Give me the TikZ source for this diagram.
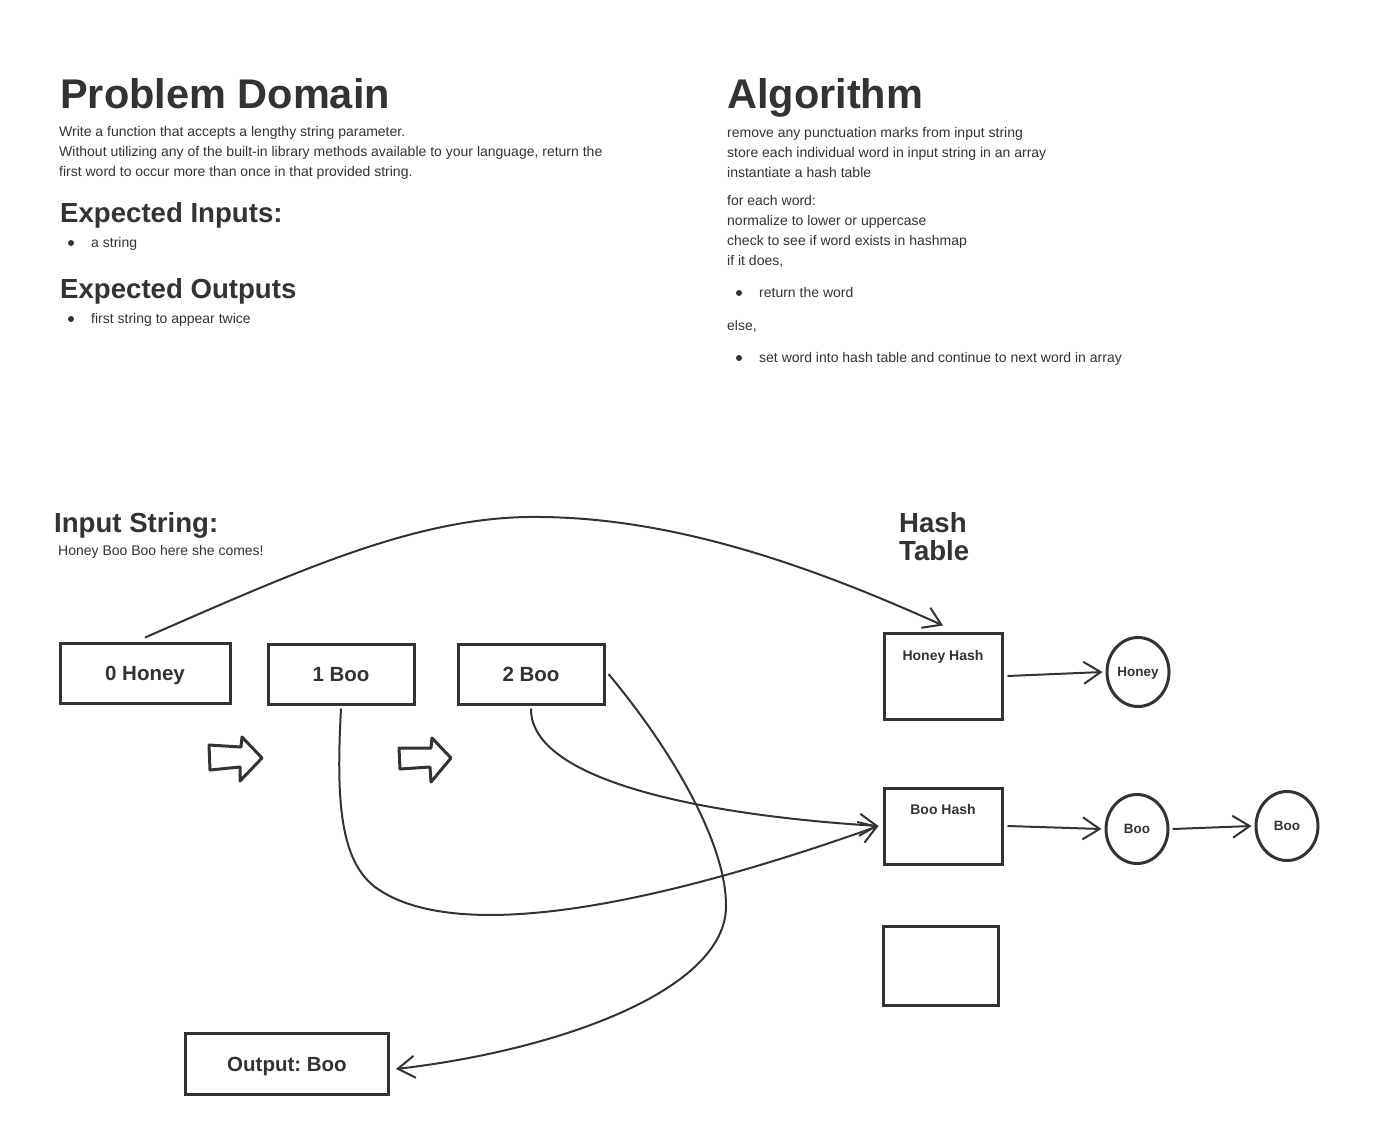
\documentclass[tikz,border=0pt]{standalone}
\usepackage{fontspec}
\setmainfont{Liberation Sans}
\usetikzlibrary{arrows.meta,shapes.geometric}
\definecolor{ink}{HTML}{333333}
\frenchspacing
\begin{document}
\begin{tikzpicture}[x=1pt,y=-1pt,
  txt/.style={anchor=base west, inner sep=0pt, text=ink, font=\fontsize{14}{16}\selectfont},
  h1/.style={txt, font=\fontsize{41.5}{48}\selectfont\bfseries},
  h2/.style={txt, font=\fontsize{27.6}{30}\selectfont\bfseries},
  bul/.style={circle, fill=ink, inner sep=0pt, minimum size=6pt},
  wbox/.style={draw=ink, line width=3pt, rectangle, inner sep=0pt, text=ink,
    font=\fontsize{20.5}{24}\selectfont\bfseries, text depth=0pt},
  hbox/.style={draw=ink, line width=3pt, rectangle, inner sep=0pt},
  lab/.style={inner sep=0pt, text=ink, font=\fontsize{14}{16}\selectfont\bfseries, text depth=0pt},
  circ/.style={draw=ink, line width=3pt, ellipse, inner sep=0pt, minimum width=62pt,
    minimum height=69pt, text=ink, font=\fontsize{13.5}{16}\selectfont\bfseries, text depth=0pt},
  conn/.style={draw=ink, line width=2pt, -{Straight Barb[length=17pt,width=22pt]}},
  blk/.style={draw=ink, line width=3pt, line join=round}
]
\useasboundingbox[fill=white] (0,0) rectangle (1379,1148);

% ---------- Problem Domain ----------
\node[h1] (pd) at (60,108) {Problem Domain};
\node[txt] (pd1) at (59,136) {Write a function that accepts a lengthy string parameter.};
\node[txt] (pd2) at (59,156) {Without utilizing any of the built-in library methods available to your language, return the};
\node[txt] (pd3) at (59,176) {first word to occur more than once in that provided string.};
\node[h2] (ei) at (60,222) {Expected Inputs:};
\node[bul] (eib) at (71,243) {};
\node[txt] (ei1) at (91,247) {a string};
\node[h2] (eo) at (60,298) {Expected Outputs};
\node[bul] (eob) at (71,319) {};
\node[txt] (eo1) at (91,323) {first string to appear twice};

% ---------- Algorithm ----------
\node[h1] (al) at (727,108) {Algorithm};
\node[txt] (al1) at (727,137) {remove any punctuation marks from input string};
\node[txt] (al2) at (727,157) {store each individual word in input string in an array};
\node[txt] (al3) at (727,177) {instantiate a hash table};
\node[txt] (al4) at (727,205) {for each word:};
\node[txt] (al5) at (727,225) {normalize to lower or uppercase};
\node[txt] (al6) at (727,245) {check to see if word exists in hashmap};
\node[txt] (al7) at (727,265) {if it does,};
\node[bul] (alb1) at (739,293) {};
\node[txt] (al8) at (759,297) {return the word};
\node[txt] (al9) at (727,330) {else,};
\node[bul] (alb2) at (739,358) {};
\node[txt] (al10) at (759,362) {set word into hash table and continue to next word in array};

% ---------- Diagram labels ----------
\node[h2] (is) at (54,532) {Input String:};
\node[txt] (isv) at (58,555) {Honey Boo Boo here she comes!};
\node[h2] (ht1) at (899,532) {Hash};
\node[h2] (ht2) at (899,560) {Table};

% ---------- Array boxes ----------
\node[wbox, minimum width=170pt, minimum height=60pt] (n0) at (145,673) {0 Honey};
\node[wbox, minimum width=146pt, minimum height=60pt] (n1) at (341,674) {1 Boo};
\node[wbox, minimum width=146pt, minimum height=60pt] (n2) at (531,674) {2 Boo};
\node[wbox, minimum width=203pt, minimum height=61pt] (out) at (287,1064) {Output: Boo};

% ---------- Hash table ----------
\node[hbox, minimum width=118pt, minimum height=86pt] (hh) at (943,676) {};
\node[lab] (hht) at (943,655) {Honey Hash};
\node[hbox, minimum width=118pt, minimum height=76pt] (bh) at (943,826) {};
\node[lab] (bht) at (943,809) {Boo Hash};
\node[hbox, minimum width=115pt, minimum height=79pt] (eh) at (941,966) {};

\node[circ] (hc) at (1138,672) {Honey};
\node[circ] (bc1) at (1137,829) {Boo};
\node[circ] (bc2) at (1287,826) {Boo};

% ---------- Block arrows ----------
\draw[blk] (209,745) -- (241,747) -- (242,737) -- (262,758) -- (240,781) -- (240,767) -- (210,770) -- cycle;
\draw[blk] (399,748) -- (431,748) -- (432,738) -- (451,758) -- (431,782) -- (430,767) -- (400,769) -- cycle;

% ---------- Connectors ----------
\draw[conn] ([yshift=4pt]n0.north) .. controls (300,570) and (420,515) .. (540,517)
  .. controls (680,518) and (820,570) .. ([yshift=6pt]hh.north);
\draw[conn] ([yshift=-3pt]n1.south) .. controls (336,800) and (340,860) .. (375,887)
  .. controls (440,935) and (600,925) .. ([xshift=-4pt]bh.west);
\draw[conn] ([yshift=-3pt]n2.south) .. controls (530,780) and (700,815) .. ([xshift=-4pt]bh.west);
\draw[conn] ([xshift=3pt]n2.east) .. controls (680,760) and (727,850) .. (726,907)
  .. controls (725,990) and (560,1050) .. ([xshift=6pt,yshift=-5pt]out.east);
\draw[conn] ([xshift=4pt]hh.east) -- ([xshift=-3pt]hc.west);
\draw[conn] ([xshift=4pt]bh.east) -- ([xshift=-3pt]bc1.west);
\draw[conn] ([xshift=3pt]bc1.east) -- ([xshift=-3pt]bc2.west);
\end{tikzpicture}
\end{document}
